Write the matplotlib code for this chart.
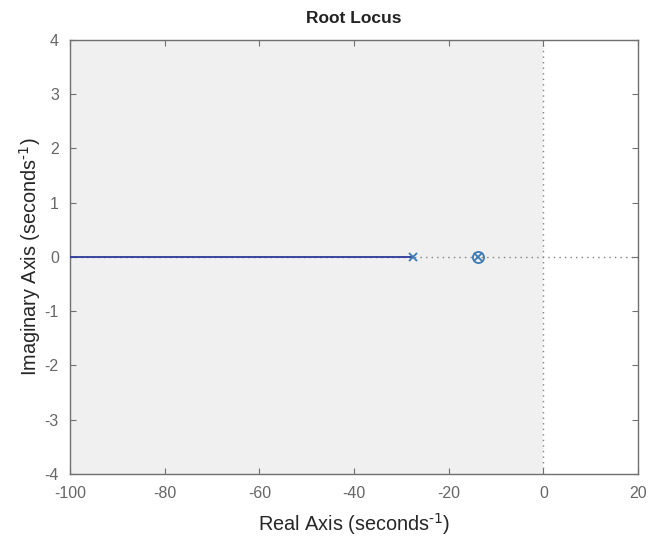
import matplotlib
matplotlib.use("Agg")
import matplotlib.pyplot as plt
import numpy as np

# Data
poles_real = [-27.5, -13.8]
poles_imag = [0.0, 0.0]
zeros_real = [-13.8]
zeros_imag = [0.0]
locus_real = [-100.0, -27.5]
locus_imag = [0.0, 0.0]
x_ticks = [-100, -80, -60, -40, -20, 0, 20]
y_ticks = [-4, -3, -2, -1, 0, 1, 2, 3, 4]

plt.rcParams['font.family'] = ['Liberation Sans', 'DejaVu Sans']
plt.rcParams['axes.unicode_minus'] = False

fig = plt.figure(figsize=(6.51, 5.38), dpi=100)
ax = fig.add_axes([0.1075, 0.119, 0.8725, 0.8067])

xmin, xmax = -100, 20
ymin, ymax = -4, 4
ax.set_xlim(xmin, xmax)
ax.set_ylim(ymin, ymax)

# shaded stable region
ax.axvspan(xmin, 0, color='#f0f0f0', zorder=0, lw=0)

# dotted axes lines
ax.axhline(0, color='#7f7f7f', ls=(0, (1, 3)), lw=1.0, zorder=1)
ax.axvline(0, color='#7f7f7f', ls=(0, (1, 3)), lw=1.0, zorder=1)

# locus branch
ax.plot(locus_real, locus_imag, color='#2b3a9a', lw=1.3, zorder=3)

# poles and zeros
ax.plot(poles_real, poles_imag, ls='none', marker='x', color='#3a7bb5', ms=6, mew=1.3, zorder=4)
ax.plot(zeros_real, zeros_imag, ls='none', marker='o', mfc='none', mec='#3a7bb5', ms=8, mew=1.3, zorder=4)

ax.set_xticks(x_ticks)
ax.set_yticks(y_ticks)
ax.tick_params(direction='in', top=True, right=True, length=4, colors='#707070',
               labelcolor='#666666', labelsize=11.5)
ax.tick_params(axis='x', pad=9)
ax.tick_params(axis='y', pad=8)
for s in ax.spines.values():
    s.set_color('#707070')
    s.set_linewidth(1.0)

sup = r'$^{\text{-1}}$'
ax.set_title('Root Locus', fontsize=12.5, fontweight='bold', color='#222222', pad=12)
ax.set_xlabel('Real Axis (seconds' + sup + ')', fontsize=14.3, color='#262626', labelpad=7)
ax.set_ylabel('Imaginary Axis (seconds' + sup + ')', fontsize=14.3, color='#262626', labelpad=1)

fig.savefig('out.png', dpi=100)
